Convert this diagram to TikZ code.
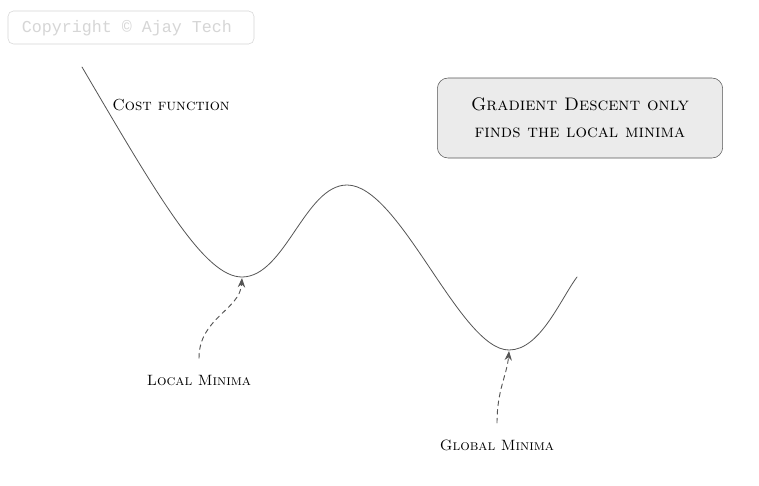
\documentclass[tikz,border=0pt]{standalone}
\usepackage{fontspec}
\usetikzlibrary{arrows.meta}
\newfontfamily\monofont{Liberation Mono}
\definecolor{inkgray}{HTML}{555555}
\definecolor{boxfill}{HTML}{EBEBEB}
\definecolor{markgray}{HTML}{D6D6D6}
\tikzset{
  label text/.style={font=\scshape\large, text=black},
  minima arrow/.style={-{Stealth[length=7pt,width=5.5pt]}, inkgray, line width=0.7pt,
    dash pattern=on 3.5pt off 3pt, shorten <=9pt}
}
\begin{document}
\begin{tikzpicture}[x=0.75pt, y=-0.75pt, line join=round, line cap=round, >=stealth]
	\useasboundingbox (0,0) rectangle (759,485);
	\fill[white] (0,0) rectangle (759,485);
	% copyright mark
	\draw[markgray, rounded corners=4pt] (8,11) rectangle (254,44);
	\node[text=markgray, font=\monofont\fontsize{12.5}{14}\selectfont] (copy) at (127,28) {Copyright \textcopyright{} Ajay Tech};
	% cost curve
	\draw[inkgray, semithick] (82,67) .. controls (160,200) and (205,277) .. (242,277)
		.. controls (285,277) and (305,185) .. (347,185)
		.. controls (400,185) and (460,350) .. (509,350)
		.. controls (540,350) and (560,300) .. (577,277);
	\coordinate (lmin) at (242,278);
	\coordinate (gmin) at (509,351);
	\node[label text] (cost) at (171,105) {Cost function};
	\node[label text, font=\scshape\fontsize{11.2}{13}\selectfont] (local) at (199,380) {Local Minima};
	\node[label text, font=\scshape\fontsize{11.2}{13}\selectfont] (global) at (497,445) {Global Minima};
	\draw[minima arrow] (local.north) .. controls (199,318) and (240,310) .. (lmin);
	\draw[minima arrow] (global.north) .. controls (497,390) and (507,375) .. (gmin);
	% note box
	\node[draw=inkgray, fill=boxfill, rounded corners=8pt, minimum width=214pt, minimum height=60pt,
		align=center, font=\scshape\fontsize{13.6}{16}\selectfont, inner sep=0pt] (note) at (580,118) {Gradient Descent only\\[4pt] finds the local minima};
\end{tikzpicture}
\end{document}
